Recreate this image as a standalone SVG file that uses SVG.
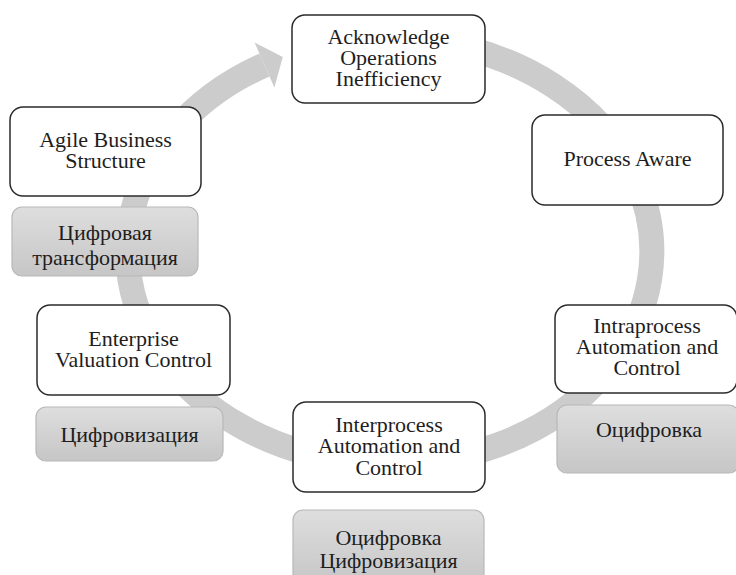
<svg xmlns="http://www.w3.org/2000/svg" width="736" height="575" viewBox="0 0 736 575">
  <style>
    .node { fill: #ffffff; stroke: #2b2b2b; stroke-width: 1.5; }
    .tag { fill: url(#grayGrad); stroke: #b8b8b8; stroke-width: 1.2; }
    .lbl { font-family: 'Liberation Serif', 'Times New Roman', serif; font-size: 22px; fill: #1e1e1e; text-anchor: middle; }
    .ring { fill: none; stroke: #cccccc; stroke-width: 25; }
  </style>
  <defs>
    <linearGradient id="grayGrad" x1="0" y1="0" x2="0" y2="1">
      <stop offset="0" stop-color="#dedede"/>
      <stop offset="1" stop-color="#c6c6c6"/>
    </linearGradient>
    <marker id="head" markerUnits="userSpaceOnUse" markerWidth="60" markerHeight="60" refX="0" refY="0" orient="auto" overflow="visible">
      <path d="M0,-24.5 L20,0 L0,24.5 Z" fill="#cccccc"/>
    </marker>
  </defs>
  <rect width="736" height="575" fill="#ffffff"/>

  <g id="connectors">
    <path class="ring" d="M300,52 A262,212.4 0 1 1 264.5,65" marker-end="url(#head)"/>
  </g>

  <g id="n-acknowledge">
    <rect class="node" x="292" y="15" width="193" height="88" rx="13"/>
    <text class="lbl" x="388.5" y="44">Acknowledge</text>
    <text class="lbl" x="388.5" y="65">Operations</text>
    <text class="lbl" x="388.5" y="86">Inefficiency</text>
  </g>

  <g id="n-agile">
    <rect class="node" x="10" y="107" width="191" height="89" rx="13"/>
    <text class="lbl" x="105.5" y="147">Agile Business</text>
    <text class="lbl" x="105.5" y="168">Structure</text>
  </g>

  <g id="t-digital-transformation">
    <rect class="tag" x="12" y="207" width="186" height="69" rx="10"/>
    <text class="lbl" x="105" y="240">Цифровая</text>
    <text class="lbl" x="105" y="265">трансформация</text>
  </g>

  <g id="n-process-aware">
    <rect class="node" x="532" y="115" width="191" height="90" rx="13"/>
    <text class="lbl" x="627.5" y="166">Process Aware</text>
  </g>

  <g id="n-enterprise">
    <rect class="node" x="37" y="305" width="193" height="90" rx="13"/>
    <text class="lbl" x="133.5" y="346">Enterprise</text>
    <text class="lbl" x="133.5" y="367">Valuation Control</text>
  </g>

  <g id="t-digitalization">
    <rect class="tag" x="36" y="407" width="187" height="54" rx="10"/>
    <text class="lbl" x="129.5" y="442">Цифровизация</text>
  </g>

  <g id="n-intraprocess">
    <rect class="node" x="555" y="305" width="182" height="88" rx="13"/>
    <text class="lbl" x="647" y="333">Intraprocess</text>
    <text class="lbl" x="647" y="354">Automation and</text>
    <text class="lbl" x="647" y="375">Control</text>
  </g>

  <g id="t-digitization">
    <rect class="tag" x="557" y="405" width="182" height="68" rx="10"/>
    <text class="lbl" x="649" y="437">Оцифровка</text>
  </g>

  <g id="n-interprocess">
    <rect class="node" x="293" y="402" width="192" height="90" rx="13"/>
    <text class="lbl" x="389" y="432">Interprocess</text>
    <text class="lbl" x="389" y="453">Automation and</text>
    <text class="lbl" x="389" y="475">Control</text>
  </g>

  <g id="t-digitization-digitalization">
    <rect class="tag" x="293" y="510" width="191" height="75" rx="10"/>
    <text class="lbl" x="388.5" y="545">Оцифровка</text>
    <text class="lbl" x="388.5" y="568">Цифровизация</text>
  </g>
</svg>
